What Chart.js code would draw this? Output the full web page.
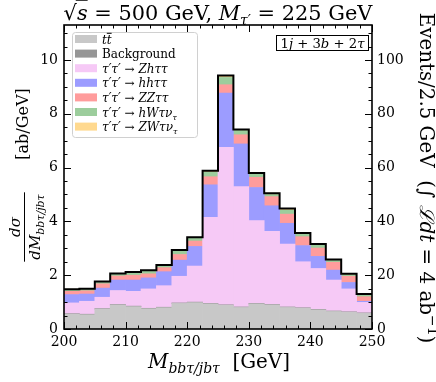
<!DOCTYPE html>
<html><head><meta charset="utf-8">
<script src="https://cdn.jsdelivr.net/npm/chart.js@4.4.0/dist/chart.umd.min.js"></script>
<style>html,body{margin:0;padding:0;background:#fff}#w{width:436px;height:382px}</style>
</head><body><div id="w"><canvas id="c" width="436" height="382"></canvas></div>
<script>
// ---- data (dσ/dM in ab/GeV per 2.5 GeV bin) ----
const binCenters = [201.25,203.75,206.25,208.75,211.25,213.75,216.25,218.75,221.25,223.75,226.25,228.75,231.25,233.75,236.25,238.75,241.25,243.75,246.25,248.75];
const binEdges = [200,202.5,205,207.5,210,212.5,215,217.5,220,222.5,225,227.5,230,232.5,235,237.5,240,242.5,245,247.5,250];
const ttbar = [0.55,0.53,0.74,0.89,0.83,0.75,0.79,0.95,0.98,0.93,0.88,0.80,0.93,0.89,0.80,0.77,0.71,0.65,0.62,0.58];
const background = [0.02,0.02,0.02,0.02,0.02,0.02,0.02,0.02,0.02,0.02,0.02,0.02,0.02,0.02,0.02,0.02,0.02,0.02,0.02,0.02];
const zhtt = [0.40,0.48,0.42,0.52,0.55,0.72,0.80,0.99,1.34,3.20,5.85,4.47,3.08,2.72,2.34,1.71,1.52,1.15,0.85,0.39];
const hhtt = [0.31,0.27,0.34,0.39,0.42,0.41,0.52,0.60,0.73,1.21,2.02,1.59,1.23,0.95,0.77,0.60,0.45,0.37,0.24,0.04];
const zztt = [0.12,0.12,0.16,0.15,0.18,0.15,0.15,0.21,0.20,0.30,0.31,0.34,0.38,0.34,0.34,0.33,0.31,0.29,0.23,0.17];
const hwtn = [0.06,0.06,0.06,0.07,0.09,0.10,0.08,0.13,0.11,0.17,0.27,0.16,0.11,0.08,0.15,0.10,0.11,0.07,0.06,0.07];
const zwtn = [0.02,0.02,0.03,0.02,0.03,0.03,0.02,0.04,0.03,0.05,0.07,0.04,0.05,0.05,0.06,0.04,0.04,0.03,0.03,0.03];
const xTicks = [200,210,220,230,240,250];
const yTicks = [0,2,4,6,8,10];
const yRightTicks = [0,20,40,60,80,100];
const yMax = 11.3;
const lumiFactor = 10; // events per 2.5 GeV at 4 ab^-1

const SERIF = "'DejaVu Serif'";
const series = [
  {name:'tt', data:ttbar, color:'#c8c8c8'},
  {name:'Background', data:background, color:'#969696'},
  {name:'Zh', data:zhtt, color:'#f6c9f6'},
  {name:'hh', data:hhtt, color:'#9c9cff'},
  {name:'ZZ', data:zztt, color:'#ff9c9c'},
  {name:'hW', data:hwtn, color:'#9ccd9c'},
  {name:'ZW', data:zwtn, color:'#ffd98f'}
];
const totals = binCenters.map((_,i)=>series.reduce((s,d)=>s+d.data[i],0));
const outline = binEdges.map((x,i)=>({x, y: totals[Math.min(i, totals.length-1)]}));

const fontStr = (s,k)=>`${s.it?'italic ':''}${s.b?'bold ':''}${(s.sz*k).toFixed(2)}px ${s.fam||SERIF}`;
function richWidth(ctx, segs, k){ let w=0; for(const s of segs){ctx.font=fontStr(s,k); w+=ctx.measureText(s.t).width;} return w; }
function drawRich(ctx, segs, x, y, opt){
  opt = opt||{};
  let k = 1;
  if(opt.width){ k = opt.width / richWidth(ctx, segs, 1); }
  const w = richWidth(ctx, segs, k);
  let cx = opt.align==='left' ? x : x - w/2;
  for(const s of segs){
    ctx.font = fontStr(s,k);
    const sw = ctx.measureText(s.t).width;
    const yy = y + (s.dy||0)*k;
    ctx.fillText(s.t, cx, yy);
    if(s.ov){
      ctx.save(); ctx.lineWidth = Math.max(1, s.sz*k*0.06);
      const oy = yy - s.sz*k*(s.ovh||0.78);
      ctx.beginPath(); ctx.moveTo(cx + (s.ovx||0)*k, oy); ctx.lineTo(cx+sw, oy); ctx.stroke(); ctx.restore();
    }
    cx += sw;
  }
  return w;
}

const legendEntries = [
  [{t:'t',it:1,sz:12},{t:'t',it:1,sz:12,ov:1,ovh:0.85}],
  [{t:'Background',sz:12}],
  [{t:'τ′τ′',it:1,sz:12},{t:' → ',sz:12},{t:'Zhττ',it:1,sz:12}],
  [{t:'τ′τ′',it:1,sz:12},{t:' → ',sz:12},{t:'hhττ',it:1,sz:12}],
  [{t:'τ′τ′',it:1,sz:12},{t:' → ',sz:12},{t:'ZZττ',it:1,sz:12}],
  [{t:'τ′τ′',it:1,sz:12},{t:' → ',sz:12},{t:'hWτν',it:1,sz:12},{t:'τ',it:1,sz:8,dy:3}],
  [{t:'τ′τ′',it:1,sz:12},{t:' → ',sz:12},{t:'ZWτν',it:1,sz:12},{t:'τ',it:1,sz:8,dy:3}]
];

const deco = {
  id:'deco',
  afterDraw(chart){
    const {ctx, chartArea:a, scales} = chart;
    ctx.save();
    ctx.fillStyle='#000'; ctx.strokeStyle='#000'; ctx.textBaseline='alphabetic';
    // inner ticks
    ctx.lineWidth=1;
    const ln=(x1,y1,x2,y2)=>{ctx.beginPath();ctx.moveTo(x1,y1);ctx.lineTo(x2,y2);ctx.stroke();};
    for(let v=200; v<=250; v+=2){
      const px=Math.round(scales.x.getPixelForValue(v))+0.5; const L=(v%10===0)?7:3.5;
      ln(px,a.bottom,px,a.bottom-L); ln(px,a.top,px,a.top+L);
    }
    for(let i=0;i<=22;i++){
      const v=i*0.5; const py=Math.round(scales.y.getPixelForValue(v))+0.5; const L=(i%4===0)?7:3.5;
      ln(a.left,py,a.left+L,py);
    }
    for(let v=0; v<=110; v+=5){
      const py=Math.round(scales.y2.getPixelForValue(v))+0.5; const L=(v%20===0)?7:3.5;
      ln(a.right,py,a.right-L,py);
    }
    // frame
    ctx.lineWidth=1.6;
    ctx.strokeRect(a.left, a.top, a.right-a.left, a.bottom-a.top);

    // legend
    const lx=72, ly=32, lw=125, lh=105;
    ctx.save();
    ctx.fillStyle='rgba(255,255,255,0.85)'; ctx.strokeStyle='#d0d0d0'; ctx.lineWidth=1;
    ctx.beginPath(); ctx.roundRect(lx+0.5,ly+0.5,lw,lh,3); ctx.fill(); ctx.stroke();
    ctx.restore();
    legendEntries.forEach((segs,i)=>{
      const ry = 39 + i*14.6;
      ctx.fillStyle = series[i].color;
      ctx.fillRect(75, ry-4, 22, 8);
      ctx.fillStyle='#000';
      drawRich(ctx, segs, 102, ry+4.5, {align:'left'});
    });

    // channel box
    ctx.lineWidth=1;
    ctx.strokeRect(276.5, 35.5, 92, 15);
    drawRich(ctx, [{t:'1',sz:13},{t:'j',it:1,sz:13},{t:' + 3',sz:13},{t:'b',it:1,sz:13},{t:' + 2',sz:13},{t:'τ',it:1,sz:13}], 322.5, 47.5, {width:84});

    // title
    drawRich(ctx, [{t:'√',sz:18},{t:'s',it:1,sz:18,ov:1,ovh:0.95,ovx:-1},{t:' = 500 GeV, ',sz:18},{t:'M',it:1,sz:18},{t:'τ′',it:1,sz:12,dy:4},{t:' = 225 GeV',sz:18}], 218, 20, {width:309});

    // x label
    drawRich(ctx, [{t:'M',it:1,sz:17},{t:'bbτ/jbτ',it:1,sz:12,dy:4},{t:'  [GeV]',sz:17}], 219, 368, {width:142});

    // left y label (rotated)
    ctx.save();
    ctx.rotate(-Math.PI/2);
    drawRich(ctx, [{t:'[ab/GeV]',sz:16}], -124, 28, {});
    const num = [{t:'dσ',it:1,sz:15}];
    const den = [{t:'dM',it:1,sz:15},{t:'bbτ/jbτ',it:1,sz:11,dy:3.5}];
    const dw = richWidth(ctx, den, 1);
    drawRich(ctx, num, -227, 20, {});
    drawRich(ctx, den, -227, 40, {});
    ctx.lineWidth=1; ln(-227-dw/2-2, 24.5, -227+dw/2+2, 24.5);
    ctx.restore();

    // right y label (rotated)
    ctx.save();
    ctx.translate(420, 0);
    ctx.rotate(Math.PI/2);
    drawRich(ctx, [{t:'Events/2.5 GeV  (',sz:17},{t:'∫',sz:17},{t:' ℒ',it:1,sz:17},{t:'dt',it:1,sz:17},{t:' = 4 ab',sz:17},{t:'−1',sz:12,dy:-7},{t:')',sz:17}], 178, 0, {width:330});
    ctx.restore();
    ctx.restore();
  }
};

const tickFont = {family:'DejaVu Serif', size:14};
new Chart(document.getElementById('c'), {
  data:{
    datasets:[
      ...series.map(s=>({type:'bar', label:s.name, data:binCenters.map((x,i)=>({x, y:s.data[i]})), backgroundColor:s.color, borderWidth:0, barPercentage:1, categoryPercentage:1, stack:'sig', yAxisID:'y', xAxisID:'x', order:2})),
      {type:'line', label:'total', data:outline, stepped:'before', borderColor:'#000', borderWidth:2, pointRadius:0, fill:false, stack:'outline', yAxisID:'y', xAxisID:'x', order:1}
    ]
  },
  options:{
    responsive:false, animation:false, devicePixelRatio:1,
    layout:{padding:{top:25,left:0,right:0,bottom:0}},
    plugins:{legend:{display:false}, tooltip:{enabled:false}, title:{display:false}},
    scales:{
      x:{type:'linear', min:200, max:250, offset:false, grid:{display:false, drawTicks:false}, border:{display:false},
         ticks:{font:tickFont, color:'#000', padding:5, maxRotation:0, autoSkip:false},
         afterBuildTicks:s=>{s.ticks = xTicks.map(v=>({value:v}));}, afterFit:s=>{s.height=53;}},
      y:{type:'linear', stacked:true, position:'left', min:0, max:yMax, grid:{display:false, drawTicks:false}, border:{display:false},
         ticks:{font:tickFont, color:'#000', padding:6},
         afterBuildTicks:s=>{s.ticks = yTicks.map(v=>({value:v}));}, afterFit:s=>{s.width=64;}},
      y2:{type:'linear', position:'right', min:0, max:yMax*lumiFactor, grid:{display:false, drawTicks:false}, border:{display:false},
         ticks:{font:tickFont, color:'#000', padding:5},
         afterBuildTicks:s=>{s.ticks = yRightTicks.map(v=>({value:v}));}, afterFit:s=>{s.width=64;}}
    }
  },
  plugins:[deco]
});
</script></body></html>
